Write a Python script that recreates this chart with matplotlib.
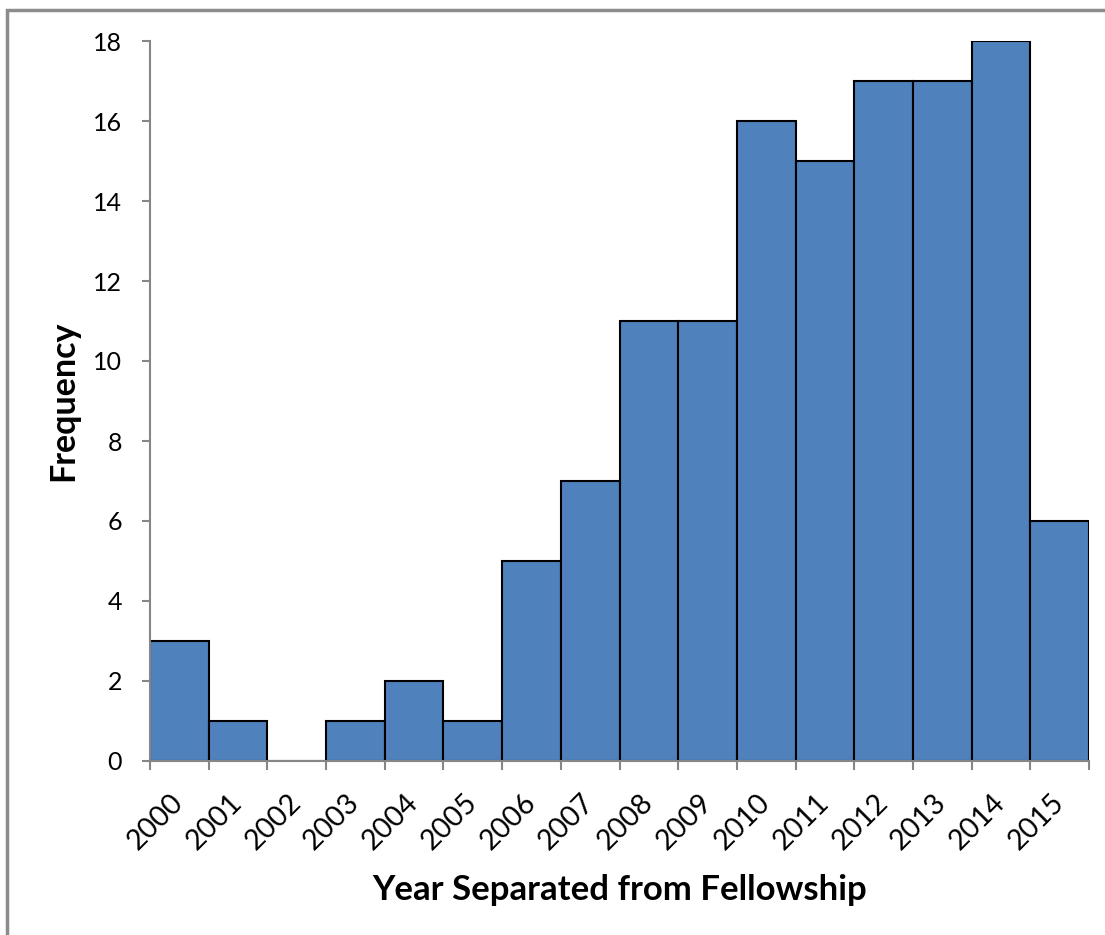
import matplotlib
matplotlib.use("Agg")
import matplotlib.pyplot as plt
from matplotlib.patches import Rectangle

# Histogram of separations per year
years = ["2000", "2001", "2002", "2003", "2004", "2005", "2006", "2007",
         "2008", "2009", "2010", "2011", "2012", "2013", "2014", "2015"]
counts = [3, 1, 0, 1, 2, 1, 5, 7, 11, 11, 16, 15, 17, 17, 18, 6]

plt.rcParams['font.family'] = ['Lato', 'DejaVu Sans']

W, H = 1105, 935
fig = plt.figure(figsize=(W / 100, H / 100), dpi=100)
ax = fig.add_axes([150 / W, (H - 761) / H, (1089 - 150) / W, (761 - 41) / H])

# outer chart border (partly cut off by the image edge)
fig.patches.append(Rectangle((7 / W, -0.1), 1.2, (H - 10) / H + 0.1,
                             transform=fig.transFigure, fill=False,
                             edgecolor="#8c8c8c", linewidth=2.5))

pos = list(range(len(years)))
ax.bar(pos, counts, width=1.0, align="edge", color="#4F81BD",
       edgecolor="black", linewidth=1.5, zorder=2)

ax.set_xlim(0, len(years))
ax.set_ylim(0, 18)
ax.set_yticks(range(0, 19, 2))

# ticks at category boundaries, labels at centers
ax.set_xticks(range(len(years) + 1))
ax.set_xticklabels([])
ax.set_xticks([p + 0.5 for p in pos], minor=True)
ax.set_xticklabels(years, minor=True, rotation=45, ha="right",
                   va="center", rotation_mode="anchor", fontsize=20.5)
ax.tick_params(axis="x", which="minor", length=0, pad=27)
ax.tick_params(axis="x", which="major", length=6.5, width=1.5, color="#868686")
ax.tick_params(axis="y", length=6, width=1.5, color="#868686", pad=14,
               labelsize=18)

for s in ["top", "right"]:
    ax.spines[s].set_visible(False)
for s in ["left", "bottom"]:
    ax.spines[s].set_color("#868686")
    ax.spines[s].set_linewidth(1.5)

ax.set_ylabel("Frequency", fontsize=24.5, fontweight="bold", labelpad=10)
ax.set_xlabel("Year Separated from Fellowship", fontsize=25,
              fontweight="bold", labelpad=14)

fig.savefig("out.png", dpi=100)
